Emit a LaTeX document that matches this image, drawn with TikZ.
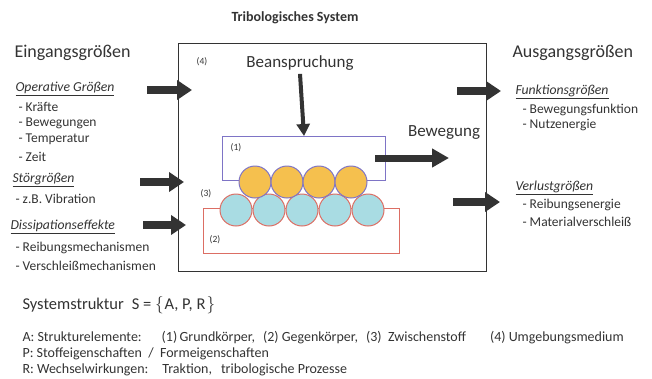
\documentclass[tikz,border=0pt]{standalone}
\usepackage{fontspec}
\setmainfont{Carlito}
\usetikzlibrary{arrows.meta}

\definecolor{ink}{HTML}{333333}
\definecolor{goldgrain}{HTML}{F5C04E}
\definecolor{bluegrain}{HTML}{A9DCE3}
\definecolor{violetline}{HTML}{7E74C6}
\definecolor{redline}{HTML}{DC6E64}

\tikzset{
  head/.style={anchor=west, text=ink, font=\fontsize{18}{21}\selectfont},
  group/.style={anchor=west, text=ink, font=\fontsize{13.7}{16}\selectfont\itshape},
  item/.style={anchor=west, text=ink, font=\fontsize{13.5}{16}\selectfont},
  legend/.style={anchor=west, text=ink, font=\fontsize{14}{16}\selectfont},
  tag/.style={text=ink, font=\fontsize{9.5}{11}\selectfont},
  fat/.style={line width=8pt, -{Triangle[length=15pt,width=19pt]}},
  grain/.style={circle, draw, line width=1pt, minimum size=32pt, inner sep=0pt},
}

\begin{document}
\begin{tikzpicture}[x=1pt,y=-1pt]
    \useasboundingbox (0,0) rectangle (652,378);

    \node[text=ink, font=\bfseries\fontsize{14}{16}\selectfont] (title) at (295,18) {Tribologisches System};
    \node[draw=ink, line width=1.4pt, anchor=north west, inner sep=0pt,
          minimum width=308pt, minimum height=228pt] (sys) at (178,43) {};

    % inputs
    \node[head] (ein) at (11,53) {Eingangsgrößen};
    \node[group] (opg) at (12,89) {\underline{Operative Größen}};
    \node[item] (kr) at (15,107) {- Kräfte};
    \node[item] (bw) at (15,123) {- Bewegungen};
    \node[item] (tp) at (15,139) {- Temperatur};
    \node[item] (zt) at (15,157) {- Zeit};
    \node[group] (stg) at (9,180) {\underline{Störgrößen}};
    \node[item] (vb) at (12,199) {- z.B. Vibration};
    \node[group] (dis) at (7,227) {\underline{Dissipationseffekte}};
    \node[item] (rm) at (12,248) {- Reibungsmechanismen};
    \node[item] (vm) at (12,266) {- Verschleißmechanismen};

    \coordinate (inA) at (147,90);
    \coordinate (inAe) at (192,90);
    \coordinate (inB) at (140,182);
    \coordinate (inBe) at (184,182);
    \coordinate (inC) at (143,225);
    \coordinate (inCe) at (186,225);
    \draw[fat, ink] (inA) -- (inAe);
    \draw[fat, ink] (inB) -- (inBe);
    \draw[fat, ink] (inC) -- (inCe);

    % system
    \node[tag] (um) at (202,62) {(4)};
    \node[text=ink, font=\fontsize{17}{20}\selectfont] (bean) at (300,63) {Beanspruchung};
    \node[draw=redline, line width=1pt, anchor=north west, inner sep=0pt,
          minimum width=196pt, minimum height=45pt] (gegen) at (203,208) {};
    \node[grain, draw=redline, fill=bluegrain] (c1) at (236,210) {};
    \node[grain, draw=redline, fill=bluegrain] (c2) at (269,210) {};
    \node[grain, draw=redline, fill=bluegrain] (c3) at (302,210) {};
    \node[grain, draw=redline, fill=bluegrain] (c4) at (335,210) {};
    \node[grain, draw=redline, fill=bluegrain] (c5) at (368,210) {};
    \node[draw=violetline, line width=1pt, anchor=north west, inner sep=0pt,
          minimum width=163pt, minimum height=44pt] (grund) at (222,136) {};
    \node[grain, draw=violetline, fill=goldgrain] (o1) at (255,182) {};
    \node[grain, draw=violetline, fill=goldgrain] (o2) at (287,182) {};
    \node[grain, draw=violetline, fill=goldgrain] (o3) at (319,182) {};
    \node[grain, draw=violetline, fill=goldgrain] (o4) at (351,182) {};
    \node[tag] (t1) at (236,148) {(1)};
    \node[tag] (t3) at (206,194) {(3)};
    \node[tag] (t2) at (215,240) {(2)};
    \draw[ink, line width=4pt, -{Triangle[length=12pt,width=13pt]}] (bean.south) -- (grund.north);

    \node[text=ink, font=\fontsize{17}{20}\selectfont] (bew) at (444,133) {Bewegung};
    \coordinate (mvA) at (375,158);
    \coordinate (mvB) at (449,158);
    \draw[ink, line width=7pt, -{Triangle[length=17pt,width=18pt]}] (mvA) -- (mvB);

    % outputs
    \node[head] (aus) at (509,53) {Ausgangsgrößen};
    \node[group] (fkt) at (512,92) {\underline{Funktionsgrößen}};
    \node[item] (bf) at (519,110) {- Bewegungsfunktion};
    \node[item] (ne) at (519,125) {- Nutzenergie};
    \node[group] (vlg) at (512,188) {\underline{Verlustgrößen}};
    \node[item] (re) at (519,205) {- Reibungsenergie};
    \node[item] (mv) at (519,222) {- Materialverschleiß};

    \coordinate (outA) at (457,91);
    \coordinate (outAe) at (501,91);
    \coordinate (outB) at (453,202);
    \coordinate (outBe) at (500,202);
    \draw[fat, ink] (outA) -- (outAe);
    \draw[fat, ink] (outB) -- (outBe);

    % structure
    \node[anchor=west, text=ink, font=\fontsize{16.5}{19}\selectfont] (sstr) at (19,305)
        {Systemstruktur\hspace{8pt}S = $\Big\{$\hspace{1pt}A, P, R\hspace{1pt}$\Big\}$};
    \node[legend] (la) at (19,338) {A:\ Strukturelemente:\hspace{20pt}(1)\,Grundkörper,\hspace{8pt}(2) Gegenkörper,\hspace{8pt}(3)\ \ Zwischenstoff\hspace{24pt}(4) Umgebungsmedium};
    \node[legend] (lp) at (19,354) {P:\ Stoffeigenschaften\ \ /\ \ Formeigenschaften};
    \node[legend] (lr) at (19,370) {R:\ Wechselwirkungen:\hspace{14pt}Traktion,\hspace{9pt}tribologische Prozesse};
\end{tikzpicture}
\end{document}
